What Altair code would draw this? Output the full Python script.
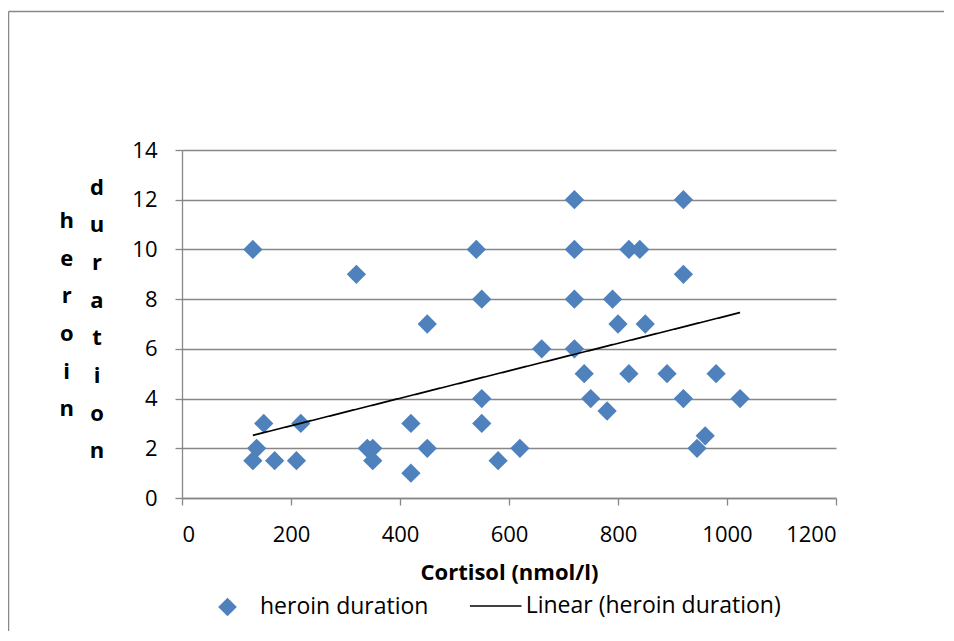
import altair as alt
import pandas as pd

# Scatter data
cortisol = [130, 320, 540, 550, 450, 550, 550, 150, 218, 137,
            130, 170, 210, 340, 350, 350, 420, 450, 420, 580,
            720, 920, 720, 820, 840, 920, 720, 790, 800, 850,
            660, 720, 738, 820, 890, 980, 750, 920, 1024, 780,
            960, 945, 620]
duration = [10, 9, 10, 8, 7, 4, 3, 3, 3, 2,
            1.5, 1.5, 1.5, 2, 2, 1.5, 3, 2, 1, 1.5,
            12, 12, 10, 10, 10, 9, 8, 8, 7, 7,
            6, 6, 5, 5, 5, 5, 4, 4, 4, 3.5,
            2.5, 2, 2]

# Linear trendline end points
trend_x = [130, 1024]
trend_y = [2.52, 7.46]

x_ticks = [0, 200, 400, 600, 800, 1000, 1200]
y_ticks = [0, 2, 4, 6, 8, 10, 12, 14]

series_pts = "heroin duration"
series_line = "Linear (heroin duration)"

pts = pd.DataFrame({"x": cortisol, "y": duration, "series": series_pts})
trend = pd.DataFrame({"x": trend_x, "y": trend_y, "series": series_line})

FONT = "Open Sans"
GRID = "#878787"
BLUE = "#4F81BD"

xscale = alt.Scale(domain=[0, 1200], nice=False, zero=False)
yscale = alt.Scale(domain=[0, 14], nice=False)

xaxis = alt.Axis(values=x_ticks, format="d", grid=False, domainColor=GRID, domainWidth=1.3,
                 tickColor=GRID, tickWidth=1.3, tickSize=7, labelFont=FONT,
                 labelFontSize=22, labelColor="black", labelPadding=19,
                 title="Cortisol (nmol/l)", titleFont=FONT, titleFontSize=22,
                 titleFontWeight="bold", titleColor="black", titleY=81,
                 titleBaseline="alphabetic")
yaxis = alt.Axis(values=y_ticks, format="d", grid=True, gridColor=GRID, gridWidth=1.3,
                 domainColor=GRID, domainWidth=1.3, tickColor=GRID, tickWidth=1.3,
                 tickSize=7, labelFont=FONT, labelFontSize=22, labelColor="black",
                 labelPadding=18, title=None)

points = alt.Chart(pts).mark_point(shape="diamond", filled=True, size=372,
                                   opacity=1, strokeWidth=0).encode(
    x=alt.X("x:Q", scale=xscale, axis=xaxis),
    y=alt.Y("y:Q", scale=yscale, axis=yaxis),
    color=alt.Color("series:N", scale=alt.Scale(domain=[series_pts], range=[BLUE]),
                    legend=alt.Legend(title=None, orient="none", legendX=34,
                                      legendY=445.5, symbolType="diamond",
                                      symbolSize=350, symbolStrokeWidth=0,
                                      labelFont=FONT, labelFontSize=23,
                                      labelColor="black", labelOffset=21,
                                      labelLimit=0, padding=0)),
)

line = alt.Chart(trend).mark_line(color="black", strokeWidth=1.7).encode(
    x=alt.X("x:Q", scale=xscale),
    y=alt.Y("y:Q", scale=yscale),
    strokeDash=alt.StrokeDash("series:N",
                              scale=alt.Scale(domain=[series_line], range=[[1, 0]]),
                              legend=alt.Legend(title=None, orient="none", legendX=286.7,
                                                legendY=429, symbolType="stroke",
                                                symbolSize=2660, symbolStrokeWidth=1.6,
                                                symbolStrokeColor="black",
                                                labelFont=FONT, labelFontSize=23,
                                                labelColor="black", labelOffset=3,
                                                labelLimit=0, padding=0)),
)

one = alt.Data(values=[{"k": 1}])

ytitle_a = alt.Chart(one).mark_text(
    text=["h", "e", "r", "o", "i", "n"], font=FONT, fontSize=22, fontWeight="bold",
    color="black", align="center", baseline="top", lineHeight=37.7
).encode(x=alt.value(-115.3), y=alt.value(60.9))

ytitle_b = alt.Chart(one).mark_text(
    text=["d", "u", "r", "a", "t", "i", "o", "n"], font=FONT, fontSize=22,
    fontWeight="bold", color="black", align="center", baseline="top", lineHeight=37.7
).encode(x=alt.value(-85), y=alt.value(27.6))

frame_top = alt.Chart(one).mark_rule(color="#888888", strokeWidth=1.5).encode(
    x=alt.value(-173.5), x2=alt.value(780), y=alt.value(-138.5))
frame_left = alt.Chart(one).mark_rule(color="#888888", strokeWidth=1.5).encode(
    x=alt.value(-173.5), y=alt.value(-138.5), y2=alt.value(500))

chart = alt.layer(points, line, ytitle_a, ytitle_b, frame_top, frame_left).resolve_legend(
    color="independent", strokeDash="independent"
).properties(
    width=654, height=348,
    autosize=alt.AutoSizeParams(type="none"),
    padding={"left": 174, "top": 142, "right": 108, "bottom": 133},
    background="white",
).configure_view(strokeWidth=0)

chart.save("out.html", embed_options={"renderer": "svg", "actions": False})
